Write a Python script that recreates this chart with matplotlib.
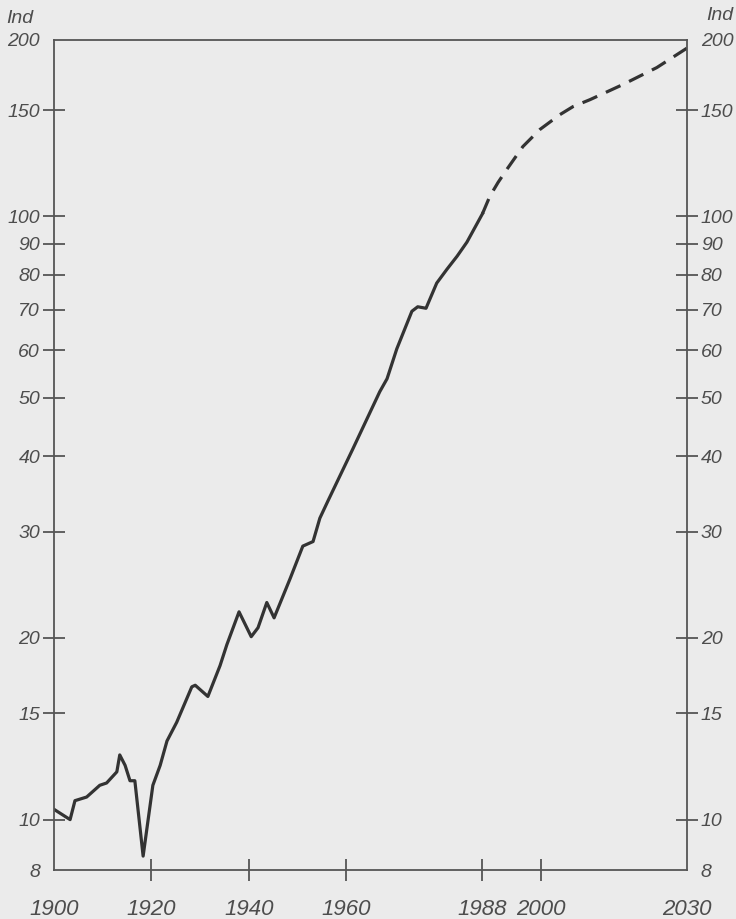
import numpy as np
import matplotlib
matplotlib.use('Agg')
import matplotlib.pyplot as plt

# index values (log scale)
years_obs = [1900, 1903.3, 1904.3, 1906.7, 1909.4, 1910.8, 1912.9, 1913.5, 1914.6,
             1915.6, 1916.6, 1918.3, 1920.3, 1921.8, 1923.2, 1925.2, 1928.3, 1929.0,
             1931.6, 1934.1, 1935.5, 1938.0, 1940.5, 1941.9, 1943.7, 1945.2, 1948.5,
             1951.1, 1953.2, 1954.6, 1956.3, 1961.4, 1966.9, 1968.4, 1970.4, 1973.5,
             1974.7, 1976.4, 1978.6, 1980.7, 1982.8, 1984.8, 1988.0]
index_obs = [10.4, 10.0, 10.75, 10.9, 11.4, 11.5, 12.0, 12.8, 12.3,
             11.6, 11.6, 8.7, 11.4, 12.3, 13.5, 14.5, 16.6, 16.7,
             16.0, 18.0, 19.5, 22.1, 20.1, 20.8, 22.9, 21.6, 25.1,
             28.4, 28.9, 31.6, 33.8, 41.2, 51.2, 53.8, 60.3, 69.6,
             70.8, 70.4, 77.5, 81.7, 85.9, 90.6, 101.0]

years_proj = [1988.0, 1989.5, 1991.2, 1993.0, 1996.3, 1999.8, 2003.9, 2006.6, 2010.1,
              2016.8, 2023.8, 2030.0]
index_proj = [101.0, 107.9, 113.8, 119.6, 130.5, 139.3, 147.4, 152.0, 156.1,
              165.3, 176.4, 190.0]

x_ticks = [1900, 1920, 1940, 1960, 1988, 2000, 2030]
y_ticks = [8.25, 10, 15, 20, 30, 40, 50, 60, 70, 80, 90, 100, 150, 196]
y_labels = ['8', '10', '15', '20', '30', '40', '50', '60', '70', '80', '90', '100', '150', '200']

bg = '#ebebeb'
ink = '#333333'
txt = '#4d4d4d'
fam = ['Liberation Sans Narrow', 'Liberation Sans', 'DejaVu Sans']

fig = plt.figure(figsize=(7.36, 9.19), dpi=100, facecolor=bg)
ax = fig.add_axes([0.0734, 0.0533, 0.86, 0.9032])
ax.set_facecolor(bg)

ax.plot(years_obs, index_obs, color=ink, lw=2.3, solid_joinstyle='round')
ax.plot(years_proj, index_proj, color=ink, lw=2.3, linestyle=(0, (5, 3)))

ax.set_yscale('log')
ax.set_xlim(1900, 2030)
ax.set_ylim(8.25, 196)

ax.set_yticks(y_ticks)
ax.set_yticklabels(y_labels)
ax.yaxis.set_minor_locator(matplotlib.ticker.NullLocator())
ax.set_xticks(x_ticks)
ax.set_xticklabels([str(y) for y in x_ticks])

for s in ax.spines.values():
    s.set_color('#555555')
    s.set_linewidth(1.3)

ax.tick_params(axis='y', which='major', direction='inout', length=16, width=1.3,
               color='#555555', left=True, right=True, labelleft=True, labelright=True,
               pad=2, labelsize=14, labelcolor=txt)
ax.tick_params(axis='x', which='major', direction='inout', length=16, width=1.3,
               color='#555555', pad=13, labelsize=16, labelcolor=txt)

for lab in ax.get_xticklabels() + ax.get_yticklabels():
    lab.set_family(fam)
    lab.set_style('italic')
for t in ax.yaxis.get_major_ticks():
    t.label2.set_family(fam)
    t.label2.set_style('italic')

# corner labels have no tick marks
for t in [ax.xaxis.get_major_ticks()[0], ax.xaxis.get_major_ticks()[-1]]:
    t.tick1line.set_visible(False)
for t in [ax.yaxis.get_major_ticks()[0], ax.yaxis.get_major_ticks()[-1]]:
    t.tick1line.set_visible(False)
    t.tick2line.set_visible(False)

fig.text(0.008, 0.980, 'Ind', ha='left', va='center', fontsize=14, color=txt,
         family=fam, style='italic')
fig.text(0.960, 0.983, 'Ind', ha='left', va='center', fontsize=14, color=txt,
         family=fam, style='italic')

fig.savefig('out.png', dpi=100, facecolor=bg)
